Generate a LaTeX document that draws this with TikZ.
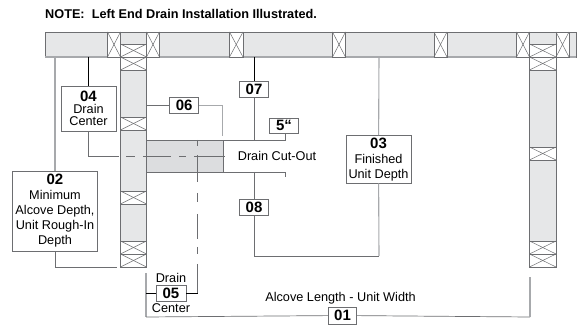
\documentclass[tikz,border=0pt]{standalone}
\usepackage{fontspec}
\setmainfont{Liberation Sans}
\usepackage{tikz}
\definecolor{wallgray}{HTML}{E6E7E8}
\definecolor{cutgray}{HTML}{DCDDDF}
\definecolor{edgegray}{HTML}{6D6E71}
\definecolor{softgray}{HTML}{A7A9AC}
\def\studbox(#1,#2)(#3,#4){\fill[white] (#1,#2) rectangle (#3,#4); \draw[stud] (#1,#2) rectangle (#3,#4); \draw[stud] (#1,#2) -- (#3,#4); \draw[stud] (#1,#4) -- (#3,#2);}
\tikzset{
	wall/.style={fill=wallgray, draw=edgegray, line width=0.7pt},
	stud/.style={draw=edgegray, line width=0.5pt},
	lead/.style={draw=edgegray, line width=0.7pt},
	softlead/.style={draw=softgray, line width=1.1pt},
	blacklead/.style={draw=black, line width=0.8pt},
	tag/.style={draw=edgegray, fill=white, line width=0.7pt, inner sep=0pt, align=center, font=\fontsize{15}{15}\selectfont\bfseries},
	label/.style={inner sep=0pt, align=center, font=\fontsize{12.7}{15}\selectfont},
	infobox/.style={draw=edgegray, fill=white, line width=0.7pt, inner sep=0pt, align=center, font=\fontsize{12.7}{15}\selectfont}
}
\newcommand{\tagnum}[1]{{\fontsize{15}{15}\selectfont\bfseries #1}}

\begin{document}
\begin{tikzpicture}[x=1pt, y=-1pt]
		%%%%% START %%%%%
		\useasboundingbox (0, 0) rectangle (581, 328);

		\node[inner sep=0pt, anchor=west, font=\fontsize{12.7}{14}\selectfont\bfseries] (note) at (45, 14) {NOTE:\ \ Left End Drain Installation Illustrated.};

		\draw[wall] (45, 32) rectangle (576, 57);
		\draw[softgray, line width=1.1pt] (45, 57) -- (576, 57);
		\studbox(107.5, 32)(120.5, 57);
		\studbox(146.5, 32)(159.5, 57);
		\studbox(229.5, 32)(243, 57);
		\studbox(332.5, 32)(345.5, 57);
		\studbox(434, 32)(447, 57);
		\studbox(516.5, 32)(529.5, 57);
		\studbox(556, 32)(569, 57);

		\draw[wall] (120.5, 44) rectangle (146.5, 267);
		\studbox(120.5, 44)(146.5, 57);
		\studbox(120.5, 57)(146.5, 70);
		\studbox(120.5, 117)(146.5, 130);
		\studbox(120.5, 191)(146.5, 204);
		\studbox(120.5, 241)(146.5, 254);
		\studbox(120.5, 254)(146.5, 267);

		\draw[wall] (529.5, 44) rectangle (556, 267);
		\studbox(529.5, 44)(556, 57);
		\studbox(529.5, 57)(556, 70);
		\studbox(529.5, 147)(556, 160);
		\studbox(529.5, 241)(556, 254);
		\studbox(529.5, 254)(556, 267);

		\draw[fill=cutgray, draw=edgegray, line width=0.7pt] (146.5, 140) rectangle (223, 172);
		\draw[edgegray, line width=0.5pt, dash pattern=on 9pt off 8pt on 28pt off 8pt on 7pt off 8pt on 31pt off 8pt] (126, 156) -- (226.5, 156);
		\draw[edgegray, line width=0.5pt, dash pattern=on 6pt off 9pt on 27pt off 11pt on 9pt off 12pt on 25pt off 8pt on 7pt off 10pt on 29pt off 8pt] (197.5, 140) -- (197.5, 293);

		\node[infobox, minimum width=55pt, minimum height=45pt, font=\fontsize{12.7}{12}\selectfont] (n04) at (88.5, 108.5) {\tagnum{04}\\Drain\\Center};
		\node[infobox, minimum width=85pt, minimum height=80pt] (n02) at (55, 211) {\tagnum{02}\\Minimum\\Alcove Depth,\\Unit Rough-In\\Depth};
		\node[infobox, minimum width=65pt, minimum height=47.5pt] (n03) at (378.5, 159.2) {\tagnum{03}\\Finished\\Unit Depth};
		\node[tag, minimum width=29pt, minimum height=16pt] (n06) at (184.2, 105.5) {06};
		\node[tag, minimum width=29pt, minimum height=16pt] (n07) at (254, 89) {07};
		\node[tag, minimum width=29pt, minimum height=16pt] (n08) at (254, 207) {08};
		\node[tag, minimum width=30pt, minimum height=16pt] (n05) at (171, 293) {05};
		\node[tag, minimum width=28.5pt, minimum height=17pt] (n01) at (342.5, 315.5) {01};
		\node[tag, minimum width=29.5pt, minimum height=15.5pt] (n5in) at (284, 125.7) {5“};

		\node[label] (cutout) at (277, 156) {Drain Cut-Out};
		\node[label] (alcove) at (340.5, 298) {Alcove Length - Unit Width};
		\node[label] (drainw) at (171, 278) {Drain};
		\node[label] (centerw) at (171, 308) {Center};

		\coordinate (w04) at (88.5, 57);
		\coordinate (e04) at (88.5, 156);
		\coordinate (f04) at (119, 156);
		\coordinate (w02) at (55, 57);
		\coordinate (e02) at (55, 267);
		\coordinate (f02) at (117, 267);
		\coordinate (w07) at (254, 57);
		\coordinate (e07) at (254, 140);
		\coordinate (e08) at (254, 172);
		\coordinate (b08) at (254, 256);
		\coordinate (b03) at (379, 256);
		\coordinate (w03) at (379, 57);
		\coordinate (a06) at (146.5, 105.5);
		\coordinate (b06) at (222.5, 105.5);
		\coordinate (c06) at (222.5, 136);
		\coordinate (a5in) at (223, 140);
		\coordinate (b5in) at (285.5, 140);
		\coordinate (a5lo) at (223, 172);
		\coordinate (b5lo) at (285.5, 172);
		\coordinate (c5lo) at (285.5, 177);
		\coordinate (t01) at (146, 273);
		\coordinate (m05) at (146, 293);
		\coordinate (l01) at (146, 317);
		\coordinate (r01) at (530, 317);
		\coordinate (t02) at (530, 277);
		\coordinate (r05) at (197.5, 293);

		\draw[blacklead] (w04) -- (n04);
		\draw[lead] (n04) -- (e04) -- (f04);
		\draw[softlead] (w02) -- (n02);
		\draw[lead] (n02) -- (e02) -- (f02);
		\draw[blacklead] (w07) -- (n07);
		\draw[lead] (n07) -- (e07);
		\draw[lead] (e08) -- (n08);
		\draw[lead] (n08) -- (b08) -- (b03);
		\draw[softlead] (b03) -- (n03);
		\draw[softlead] (n03) -- (w03);
		\draw[lead] (a06) -- (n06);
		\draw[softlead] (n06) -- (b06) -- (c06);
		\draw[lead] (a5in) -- (b5in) -- (b5in |- n5in.south);
		\draw[lead] (a5lo) -- (b5lo) -- (c5lo);
		\draw[softlead] (t01) -- (l01);
		\draw[lead] (l01) -- (n01);
		\draw[lead] (n01) -- (r01);
		\draw[softlead] (r01) -- (t02);
		\draw[blacklead] (m05) -- (n05);
		\draw[blacklead] (n05) -- (r05);
		%%%%% END %%%%%
	\end{tikzpicture}
\end{document}
